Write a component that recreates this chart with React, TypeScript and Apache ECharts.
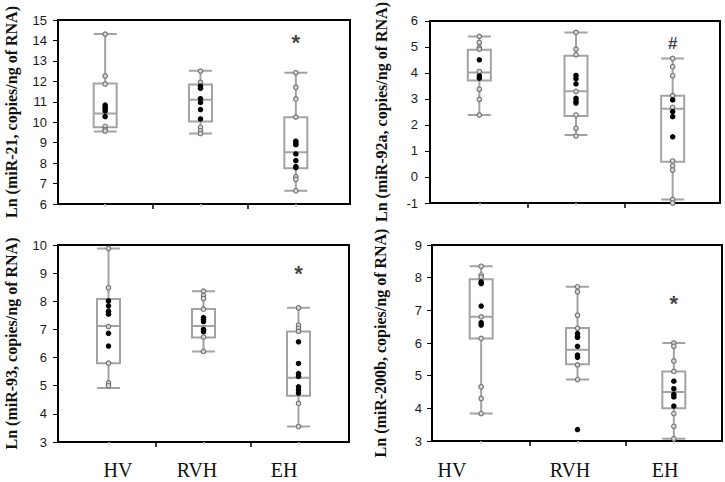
import React, { useEffect, useRef } from "react";
import * as echarts from "echarts";

// ---- data ----
const groups = ["HV", "RVH", "EH"];

// boxplot stats: [min, Q1, median, Q3, max]
const mir21Box = [
  [9.55, 9.75, 10.43, 11.9, 14.31],
  [9.45, 10.04, 11.1, 11.85, 12.52],
  [6.65, 7.75, 8.53, 10.24, 12.42],
];
const mir21Dark = [
  [10.84, 10.75, 10.65, 10.55, 10.28],
  [11.76, 11.66, 11.15, 10.97, 10.62, 10.16],
  [9.07, 8.95, 8.9, 8.45, 8.12, 7.83, 7.78],
];
const mir21Light = [
  [14.31, 12.26, 11.87, 9.8, 9.64, 9.57],
  [12.5, 11.95, 9.75, 9.58, 9.45],
  [12.42, 11.71, 11.14, 10.25, 7.34, 7.21, 6.65],
];

const mir92aBox = [
  [2.31, 3.61, 3.91, 4.77, 5.27],
  [1.56, 2.27, 3.21, 4.54, 5.42],
  [-0.87, 0.55, 2.55, 3.04, 4.44],
];
const mir92aDark = [
  [4.39, 3.78, 3.7],
  [3.8, 3.68, 3.48, 2.94, 2.84, 2.76],
  [2.88, 2.44, 2.25, 1.49],
];
const mir92aLight = [
  [5.27, 5.04, 4.85, 4.79, 3.95, 3.28, 2.9, 2.31],
  [5.42, 4.79, 4.58, 3.2, 2.31, 1.81, 1.52],
  [4.44, 4.13, 3.79, 3.04, 2.6, 0.58, 0.4, 0.24, -0.87, -1.0],
];

const mir93Box = [
  [4.92, 5.8, 7.12, 8.08, 9.88],
  [6.22, 6.71, 7.12, 7.73, 8.36],
  [3.55, 4.64, 5.28, 6.93, 7.77],
];
const mir93Dark = [
  [8.01, 7.84, 7.65, 7.54, 6.86, 6.41],
  [7.42, 7.35, 7.28, 7.0, 6.92],
  [6.56, 5.79, 5.43, 5.33, 4.96, 4.85, 4.74],
];
const mir93Light = [
  [9.88, 8.48, 7.1, 5.8, 5.1, 5.0],
  [8.36, 8.2, 8.1, 7.72, 6.73, 6.22],
  [7.77, 7.15, 7.04, 6.93, 4.37, 3.55],
];

const mir200bBox = [
  [3.84, 6.14, 6.8, 7.95, 8.35],
  [4.88, 5.35, 5.79, 6.46, 7.72],
  [3.07, 4.0, 4.5, 5.13, 6.0],
];
const mir200bDark = [
  [7.87, 7.82, 7.13, 6.62, 6.55],
  [6.29, 6.2, 6.17, 5.9, 5.63, 5.56, 3.35],
  [4.83, 4.6, 4.43, 4.35, 4.07],
];
const mir200bLight = [
  [8.35, 8.08, 8.02, 6.8, 6.14, 4.66, 4.3, 3.84],
  [7.72, 7.57, 6.85, 6.45, 5.33, 4.88],
  [6.0, 5.9, 5.45, 5.13, 3.84, 3.45, 3.07],
];

const yTitles = [
  "Ln (miR-21, copies/ng of RNA)",
  "Ln (miR-92a, copies/ng of RNA)",
  "Ln (miR-93, copies/ng of RNA)",
  "Ln (miR-200b, copies/ng of RNA)",
];
const yMins = [6, -1, 3, 3];
const yMaxs = [15, 6, 10, 9];
const sigMarks = ["*", "#", "*", "*"];
const sigMarkY = [13.9, 5.0, 9.0, 7.2];

// ---- layout ----
const panels = [
  { box: mir21Box, dark: mir21Dark, light: mir21Light, frame: { left: 58, top: 20, width: 292, height: 184 }, data: { left: 57.5, width: 286 }, nameGap: 39, margin: 11, labels: null as null | number[] },
  { box: mir92aBox, dark: mir92aDark, light: mir92aLight, frame: { left: 430, top: 17, width: 290, height: 186 }, data: { left: 431, width: 290 }, nameGap: 41, margin: 12, labels: null as null | number[] },
  { box: mir93Box, dark: mir93Dark, light: mir93Light, frame: { left: 58, top: 245, width: 291, height: 197 }, data: { left: 61, width: 285 }, nameGap: 39, margin: 11, labels: [118, 197, 284] },
  { box: mir200bBox, dark: mir200bDark, light: mir200bLight, frame: { left: 432, top: 245, width: 290, height: 196 }, data: { left: 433, width: 289 }, nameGap: 44, margin: 10, labels: [452, 570, 665] },
];

function buildOption() {
  const grid: any[] = [];
  const xAxis: any[] = [];
  const yAxis: any[] = [];
  const series: any[] = [];
  const graphic: any[] = [];

  panels.forEach((p, i) => {
    const f = p.frame;
    const band = p.data.width / groups.length;
    const fi = 2 * i;
    const di = 2 * i + 1;
    grid.push({ left: f.left, top: f.top, width: f.width, height: f.height, show: true, borderColor: "#000", borderWidth: 2, backgroundColor: "transparent", containLabel: false });
    grid.push({ left: p.data.left, top: f.top, width: p.data.width, height: f.height, show: false, containLabel: false });

    xAxis.push({
      type: "value",
      gridIndex: fi,
      position: "bottom",
      min: (f.left - p.data.left) / band,
      max: (f.left + f.width - p.data.left) / band,
      axisLine: { show: false, onZero: false },
      axisTick: { show: true, customValues: [1, 2], length: 5, lineStyle: { color: "#000", width: 1.5 } },
      axisLabel: { show: false },
      splitLine: { show: false },
    });
    xAxis.push({
      type: "category",
      gridIndex: di,
      position: "bottom",
      data: groups,
      boundaryGap: true,
      axisLine: { show: false, onZero: false },
      axisTick: { show: true, alignWithLabel: true, length: 3, lineStyle: { color: "#c8c8c8", width: 1.5 } },
      axisLabel: { show: false },
      splitLine: { show: false },
    });

    yAxis.push({
      type: "value",
      gridIndex: fi,
      min: yMins[i],
      max: yMaxs[i],
      interval: 1,
      name: yTitles[i],
      nameLocation: "middle",
      nameGap: p.nameGap,
      nameTextStyle: { fontFamily: "Liberation Serif", fontWeight: "bold", fontSize: 16, color: "#111" },
      axisLine: { show: false, onZero: false },
      axisTick: { show: true, inside: false, length: 5, lineStyle: { color: "#000", width: 1 } },
      axisLabel: { margin: p.margin, fontFamily: "Liberation Sans", fontSize: 13, color: "#1a1a1a" },
      splitLine: { show: false },
    });
    yAxis.push({
      type: "value",
      gridIndex: di,
      min: yMins[i],
      max: yMaxs[i],
      show: false,
      axisLine: { onZero: false },
      splitLine: { show: false },
    });

    series.push({
      type: "boxplot",
      xAxisIndex: di,
      yAxisIndex: di,
      data: p.box,
      boxWidth: [23, 23],
      silent: true,
      itemStyle: { color: "rgba(255,255,255,0)", borderColor: "#a3a3a3", borderWidth: 2 },
    });
    const lightPts: any[] = [];
    const darkPts: any[] = [];
    p.light.forEach((vals, g) => vals.forEach((v) => lightPts.push([g, v])));
    p.dark.forEach((vals, g) => vals.forEach((v) => darkPts.push([g, v])));
    series.push({
      type: "scatter",
      xAxisIndex: di,
      yAxisIndex: di,
      data: lightPts,
      symbol: "circle",
      symbolSize: 4.5,
      silent: true,
      itemStyle: { color: "#d8d8d8", borderColor: "#707070", borderWidth: 1.1, opacity: 1 },
      z: 3,
    });
    series.push({
      type: "scatter",
      xAxisIndex: di,
      yAxisIndex: di,
      data: darkPts,
      symbol: "circle",
      symbolSize: 5.5,
      silent: true,
      itemStyle: { color: "#000", opacity: 1 },
      z: 4,
    });
    series.push({
      type: "scatter",
      xAxisIndex: di,
      yAxisIndex: di,
      data: [[2, sigMarkY[i]]],
      symbolSize: 1,
      silent: true,
      itemStyle: { color: "rgba(0,0,0,0)" },
      label: {
        show: true,
        position: "inside",
        formatter: sigMarks[i],
        fontFamily: "Liberation Sans",
        fontWeight: "bold",
        fontSize: sigMarks[i] === "#" ? 17 : 22,
        color: "#111",
      },
      z: 5,
    });

    if (p.labels) {
      p.labels.forEach((cx, g) => {
        graphic.push({
          type: "text",
          x: cx,
          y: 470,
          style: { text: groups[g], fontFamily: "Liberation Serif", fontSize: 20, fill: "#111", align: "center", verticalAlign: "middle" },
          silent: true,
        });
      });
    }
  });

  return { animation: false, backgroundColor: "#fff", grid, xAxis, yAxis, series, graphic };
}

export default function App() {
  const ref = useRef<HTMLDivElement>(null);
  useEffect(() => {
    if (!ref.current) return;
    const chart = echarts.init(ref.current, undefined, { renderer: "svg" });
    chart.setOption(buildOption() as any);
    return () => chart.dispose();
  }, []);
  return <div ref={ref} style={{ position: "fixed", left: 0, top: 0, width: 725, height: 482 }} />;
}
